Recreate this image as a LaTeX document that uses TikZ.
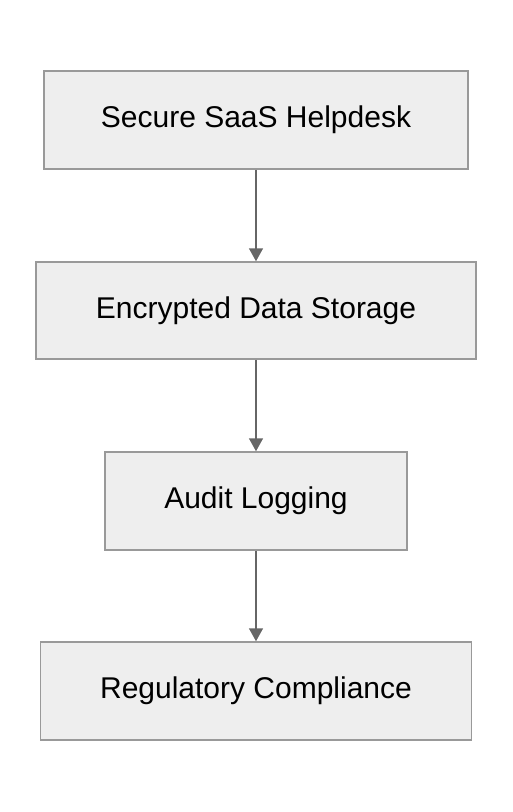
\documentclass[tikz,border=0pt]{standalone}
\usepackage{fontspec}
\setmainfont{Liberation Sans}
\usetikzlibrary{arrows.meta}
\definecolor{boxfill}{HTML}{EEEEEE}
\definecolor{boxline}{HTML}{999999}
\definecolor{arrowc}{HTML}{666666}
\begin{document}
\begin{tikzpicture}[x=1pt,y=-1pt,
  box/.style={draw=boxline, fill=boxfill, line width=1.5pt, inner sep=0pt, font=\fontsize{30}{36}\selectfont},
  conn/.style={draw=arrowc, line width=1.6pt, -{Triangle[width=14pt,length=13pt]}}]
\useasboundingbox (0,0) rectangle (512,812);
\node[box, minimum width=424pt, minimum height=98pt] (a) at (256,120) {Secure SaaS Helpdesk};
\node[box, minimum width=440pt, minimum height=97pt] (b) at (256,310.5) {Encrypted Data Storage};
\node[box, minimum width=302pt, minimum height=98pt] (c) at (256,501) {Audit Logging};
\node[box, minimum width=431pt, minimum height=98pt] (d) at (256,691) {Regulatory Compliance};
\draw[conn] (a.south) -- (b.north);
\draw[conn] (b.south) -- (c.north);
\draw[conn] (c.south) -- (d.north);
\end{tikzpicture}
\end{document}
